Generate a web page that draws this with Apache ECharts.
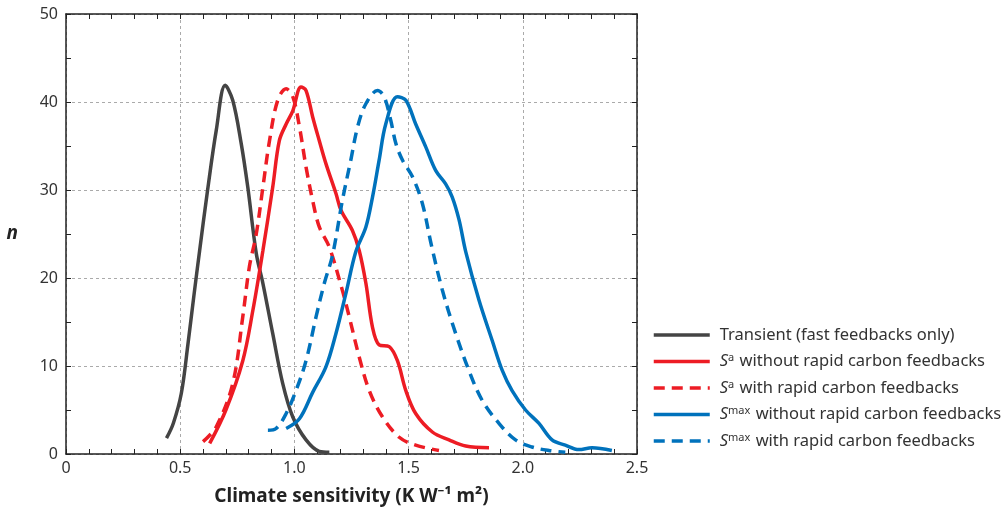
<!DOCTYPE html>
<html>
<head>
    <meta charset="UTF-8">
    <title>Climate sensitivity</title>
    <style>
        html, body { margin: 0; padding: 0; background: #fff; }
        #main { width: 1003px; height: 507px; }
    </style>
</head>
<body>
<div id="main"></div>
<script src="https://cdn.jsdelivr.net/npm/echarts@6/dist/echarts.min.js"></script>
<script type="text/javascript">

    // [climate sensitivity, n]
    var transient = [
        [0.44, 1.8], [0.47, 3.5], [0.505, 6.9], [0.534, 12.5], [0.56, 18], [0.585, 23.1], [0.62, 30],
        [0.658, 36.8], [0.697, 41.9], [0.73, 40.2], [0.767, 35.3], [0.796, 30.3],
        [0.833, 22.8], [0.862, 19.4], [0.905, 13.7], [0.949, 8.0], [0.993, 4.2],
        [1.051, 1.6], [1.109, 0.3], [1.153, 0.2]
    ];
    var saWithout = [
        [0.629, 1.2], [0.70, 5], [0.774, 10.6], [0.818, 16.3], [0.862, 23.1], [0.905, 30.3],
        [0.934, 35.6], [0.964, 37.5], [0.993, 39], [1.029, 41.7], [1.051, 41.3],
        [1.08, 38.3], [1.109, 35.6], [1.138, 33], [1.182, 29.6], [1.204, 27.7],
        [1.254, 25.4], [1.284, 23.1], [1.313, 19.4], [1.342, 14.4], [1.371, 12.4],
        [1.415, 12.2], [1.451, 10.6], [1.488, 7.2], [1.531, 4.6], [1.604, 2.5],
        [1.677, 1.6], [1.75, 0.9], [1.852, 0.7]
    ];
    var saWith = [
        [0.60, 1.4], [0.658, 3.1], [0.73, 8], [0.774, 15.6], [0.803, 21.3], [0.833, 25],
        [0.862, 30.3], [0.891, 35.6], [0.927, 40.2], [0.964, 41.5], [0.993, 40.6],
        [1.022, 37.2], [1.051, 32.6], [1.08, 28.8], [1.109, 25.8], [1.153, 23.5],
        [1.21, 18.6], [1.24, 15.6], [1.284, 11], [1.328, 7.2], [1.386, 4.2],
        [1.459, 1.9], [1.531, 1.0], [1.633, 0.4]
    ];
    var smaxWithout = [
        [0.964, 2.9], [1.022, 4.0], [1.08, 7.0], [1.138, 9.9], [1.182, 13.7], [1.225, 18.2],
        [1.269, 23], [1.313, 25.8], [1.342, 29.2], [1.371, 33.4], [1.40, 37.5],
        [1.451, 40.6], [1.488, 40.2], [1.531, 37.5], [1.575, 34.9], [1.619, 32.2],
        [1.662, 30.7], [1.691, 29.2], [1.721, 26.6], [1.75, 23], [1.808, 17.5],
        [1.866, 12.9], [1.91, 9.5], [1.953, 7.2], [2.012, 5.0], [2.07, 3.5],
        [2.128, 1.6], [2.186, 1.0], [2.245, 0.5], [2.303, 0.7], [2.39, 0.4]
    ];
    var smaxWith = [
        [0.884, 2.7], [0.92, 2.9], [0.964, 4.6], [1.007, 7.2], [1.051, 10.6], [1.095, 15.6],
        [1.131, 19.4], [1.167, 22.6], [1.21, 28.8], [1.247, 33.4], [1.277, 37.2],
        [1.313, 39.8], [1.364, 41.3], [1.393, 40.6], [1.422, 37.9], [1.444, 35.3],
        [1.473, 33.4], [1.517, 31.5], [1.56, 28.5], [1.60, 23.7], [1.648, 18.6],
        [1.706, 13.7], [1.764, 9.5], [1.822, 6.1], [1.895, 3.5], [1.968, 1.6],
        [2.04, 0.8], [2.114, 0.4], [2.186, 0.2]
    ];

    var seriesNames = ['transient', 'saWithout', 'saWith', 'smaxWithout', 'smaxWith'];
    var legendLabels = {
        transient: 'Transient (fast feedbacks only)',
        saWithout: '{i|S}{sup|a} without rapid carbon feedbacks',
        saWith: '{i|S}{sup|a} with rapid carbon feedbacks',
        smaxWithout: '{i|S}{sup|max} without rapid carbon feedbacks',
        smaxWith: '{i|S}{sup|max} with rapid carbon feedbacks'
    };

    var GRAY = '#444444', RED = '#ed1c24', BLUE = '#0072bc';
    var FONT = 'Noto Sans';

    function makeLine(name, data, color, dashed) {
        return {
            name: name,
            type: 'line',
            xAxisIndex: 0,
            yAxisIndex: 0,
            data: data,
            smooth: 0.35,
            symbol: 'none',
            showSymbol: false,
            lineStyle: { color: color, width: 3.5, type: dashed ? [11, 7] : 'solid' },
            itemStyle: { color: color },
            z: 3
        };
    }

    var frame = { show: true, onZero: false, lineStyle: { color: '#222', width: 1.5 } };
    var tick = { show: true, inside: true, length: 5, lineStyle: { color: '#222' } };

    var myChart = echarts.init(document.getElementById('main'));
    var option = {
        animation: false,
        textStyle: { fontFamily: FONT },
        grid: { left: 66, top: 14, width: 571, height: 440, containLabel: false, outerBoundsMode: 'none' },
        legend: {
            orient: 'vertical',
            left: 652,
            top: 326,
            padding: 0,
            itemWidth: 56,
            itemHeight: 14,
            itemGap: 8.5,
            data: seriesNames,
            itemStyle: { opacity: 0 },
            lineStyle: { width: 3.5 },
            formatter: function (n) { return legendLabels[n]; },
            textStyle: {
                fontFamily: FONT, fontSize: 16.5, color: '#333', lineHeight: 18, padding: [0, 0, 0, 5],
                rich: {
                    i: { fontStyle: 'italic', fontSize: 16.5, color: '#333', lineHeight: 18 },
                    sup: { fontSize: 11, color: '#333', lineHeight: 18, verticalAlign: 'top', padding: [0, 1, 6, 0] }
                }
            }
        },
        xAxis: [{
            type: 'value', min: 0, max: 2.5, interval: 0.5,
            name: 'Climate sensitivity (K W\u207B\u00B9 m\u00B2)',
            nameLocation: 'middle', nameGap: 33,
            nameTextStyle: { fontFamily: FONT, fontSize: 19, fontWeight: 'bold', color: '#222' },
            axisLine: frame,
            axisTick: tick,
            minorTick: { show: true, splitNumber: 5, length: 5, lineStyle: { color: '#222' } },
            axisLabel: {
                fontSize: 16, color: '#333', margin: 6,
                formatter: function (v) { return v === 0 ? '0' : v.toFixed(1); }
            },
            splitLine: { show: true, lineStyle: { color: '#aaa', type: [3, 3], width: 1 } }
        }, {
            type: 'value', position: 'top', min: 0, max: 2.5, interval: 0.5,
            axisLine: frame,
            axisTick: tick,
            minorTick: { show: true, splitNumber: 5, length: 5, lineStyle: { color: '#222' } },
            axisLabel: { show: false },
            splitLine: { show: false }
        }],
        yAxis: [{
            type: 'value', min: 0, max: 50, interval: 10,
            name: 'n', nameLocation: 'middle', nameGap: 48, nameRotate: 0,
            nameTextStyle: { fontFamily: FONT, fontSize: 19, fontWeight: 'bold', fontStyle: 'italic', color: '#222', padding: [10, 0, 0, 0] },
            axisLine: frame,
            axisTick: tick,
            minorTick: { show: true, splitNumber: 2, length: 5, lineStyle: { color: '#222' } },
            axisLabel: { fontSize: 16, color: '#333', margin: 8 },
            splitLine: { show: true, lineStyle: { color: '#aaa', type: [3, 3], width: 1 } }
        }, {
            type: 'value', position: 'right', min: 0, max: 50, interval: 10,
            axisLine: frame,
            axisTick: tick,
            minorTick: { show: true, splitNumber: 2, length: 5, lineStyle: { color: '#222' } },
            axisLabel: { show: false },
            splitLine: { show: false }
        }],
        series: [
            makeLine('transient', transient, GRAY, false),
            makeLine('saWithout', saWithout, RED, false),
            makeLine('saWith', saWith, RED, true),
            makeLine('smaxWithout', smaxWithout, BLUE, false),
            makeLine('smaxWith', smaxWith, BLUE, true)
        ]
    };
    myChart.setOption(option);

</script>
</body>
</html>
